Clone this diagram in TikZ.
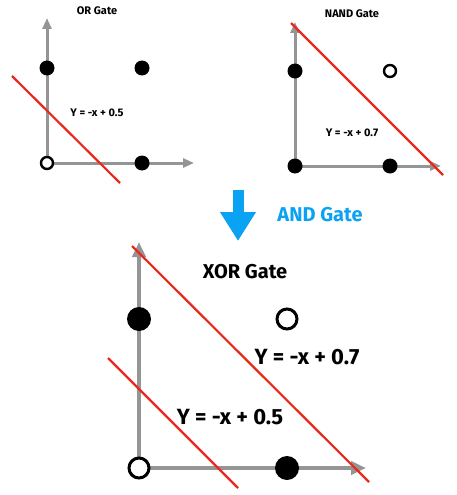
\documentclass[tikz,border=0pt]{standalone}
\usepackage{fontspec}
\setmainfont{Fira Sans}
\usetikzlibrary{arrows.meta,positioning,backgrounds}
\definecolor{axisgray}{HTML}{959595}
\definecolor{sepred}{HTML}{E8291C}
\definecolor{andblue}{HTML}{0AA2F2}
\tikzset{
    dot/.style = {circle, fill=black, inner sep=0pt, minimum size=15pt},
    hollow/.style = {circle, draw=black, fill=white, line width=2.4pt, inner sep=0pt, minimum size=12pt},
    bigdot/.style = {circle, fill=black, inner sep=0pt, minimum size=24pt},
    bighollow/.style = {circle, draw=black, fill=white, line width=3pt, inner sep=0pt, minimum size=20pt},
    axis/.style = {draw=axisgray, line width=3pt, -{Triangle[length=11pt,width=9pt]}},
    bigaxis/.style = {draw=axisgray, line width=4.5pt, -{Triangle[length=15pt,width=13pt]}},
    sep/.style = {draw=sepred, line width=2.2pt},
    small/.style = {font=\fontsize{11}{12}\selectfont\bfseries},
    big/.style = {font=\fontsize{22}{24}\selectfont\bfseries}
}

\begin{document}
\begin{tikzpicture}[x=1pt,y=-1pt]
    \useasboundingbox (0,0) rectangle (456,495);
    % OR gate
    \coordinate (or0) at (47,163);
    \coordinate (orY) at (47,18);
    \coordinate (orX) at (194,163);
    \draw[axis] (or0) -- (orY);
    \draw[axis] (or0) -- (orX);
    \node [hollow] (or00) at (or0) {};
    \node [dot] (or01) at (47,68) {};
    \node [dot] (or11) at (142,68) {};
    \node [dot] (or10) at (142,163) {};
    \coordinate (orA) at (12,76);
    \coordinate (orB) at (120,183);
    \draw[sep] (orA) -- (orB);
    \node [small] (ortitle) at (97,11) {OR Gate};
    \node [small] (orlbl) at (97,113) {Y = -x + 0.5};
    % NAND gate
    \coordinate (na0) at (295,166);
    \coordinate (naY) at (295,22);
    \coordinate (naX) at (441,166);
    \draw[axis] (na0) -- (naY);
    \draw[axis] (na0) -- (naX);
    \node [dot] (na00) at (na0) {};
    \node [dot] (na01) at (295,71) {};
    \node [hollow] (na11) at (390,71) {};
    \node [dot] (na10) at (390,166) {};
    \coordinate (naA) at (291,23);
    \coordinate (naB) at (443,175);
    \draw[sep] (naA) -- (naB);
    \node [small] (natitle) at (352,14) {NAND Gate};
    \node [small] (nalbl) at (352,133) {Y = -x + 0.7};
    % AND step
    \coordinate (andtop) at (238,190);
    \coordinate (andtip) at (238,241);
    \draw[andblue, line width=11pt, -{Triangle[length=29pt,width=34pt]}] (andtop) -- (andtip);
    \node [big, text=andblue, font=\fontsize{20}{22}\selectfont\bfseries] (andlbl) at (320,215) {AND Gate};
    % XOR gate
    \coordinate (xo0) at (139,468);
    \coordinate (xoY) at (139,242);
    \coordinate (xoX) at (366,468);
    \draw[bigaxis] (xo0) -- (xoY);
    \draw[bigaxis] (xo0) -- (xoX);
    \node [bighollow] (xo00) at (xo0) {};
    \node [bigdot] (xo01) at (139,319) {};
    \node [bighollow] (xo11) at (287,319) {};
    \node [bigdot] (xo10) at (287,468) {};
    \coordinate (xoA) at (132,246);
    \coordinate (xoB) at (369,482);
    \coordinate (xoC) at (108,358);
    \coordinate (xoD) at (238,488);
    \draw[sep] (xoA) -- (xoB);
    \draw[sep] (xoC) -- (xoD);
    \node [big, font=\fontsize{20}{22}\selectfont\bfseries] (xotitle) at (245,272) {XOR Gate};
    \node [big] (xolblA) at (307,357) {Y = -x + 0.7};
    \node [big] (xolblB) at (230,417) {Y = -x + 0.5};
\end{tikzpicture}
\end{document}
